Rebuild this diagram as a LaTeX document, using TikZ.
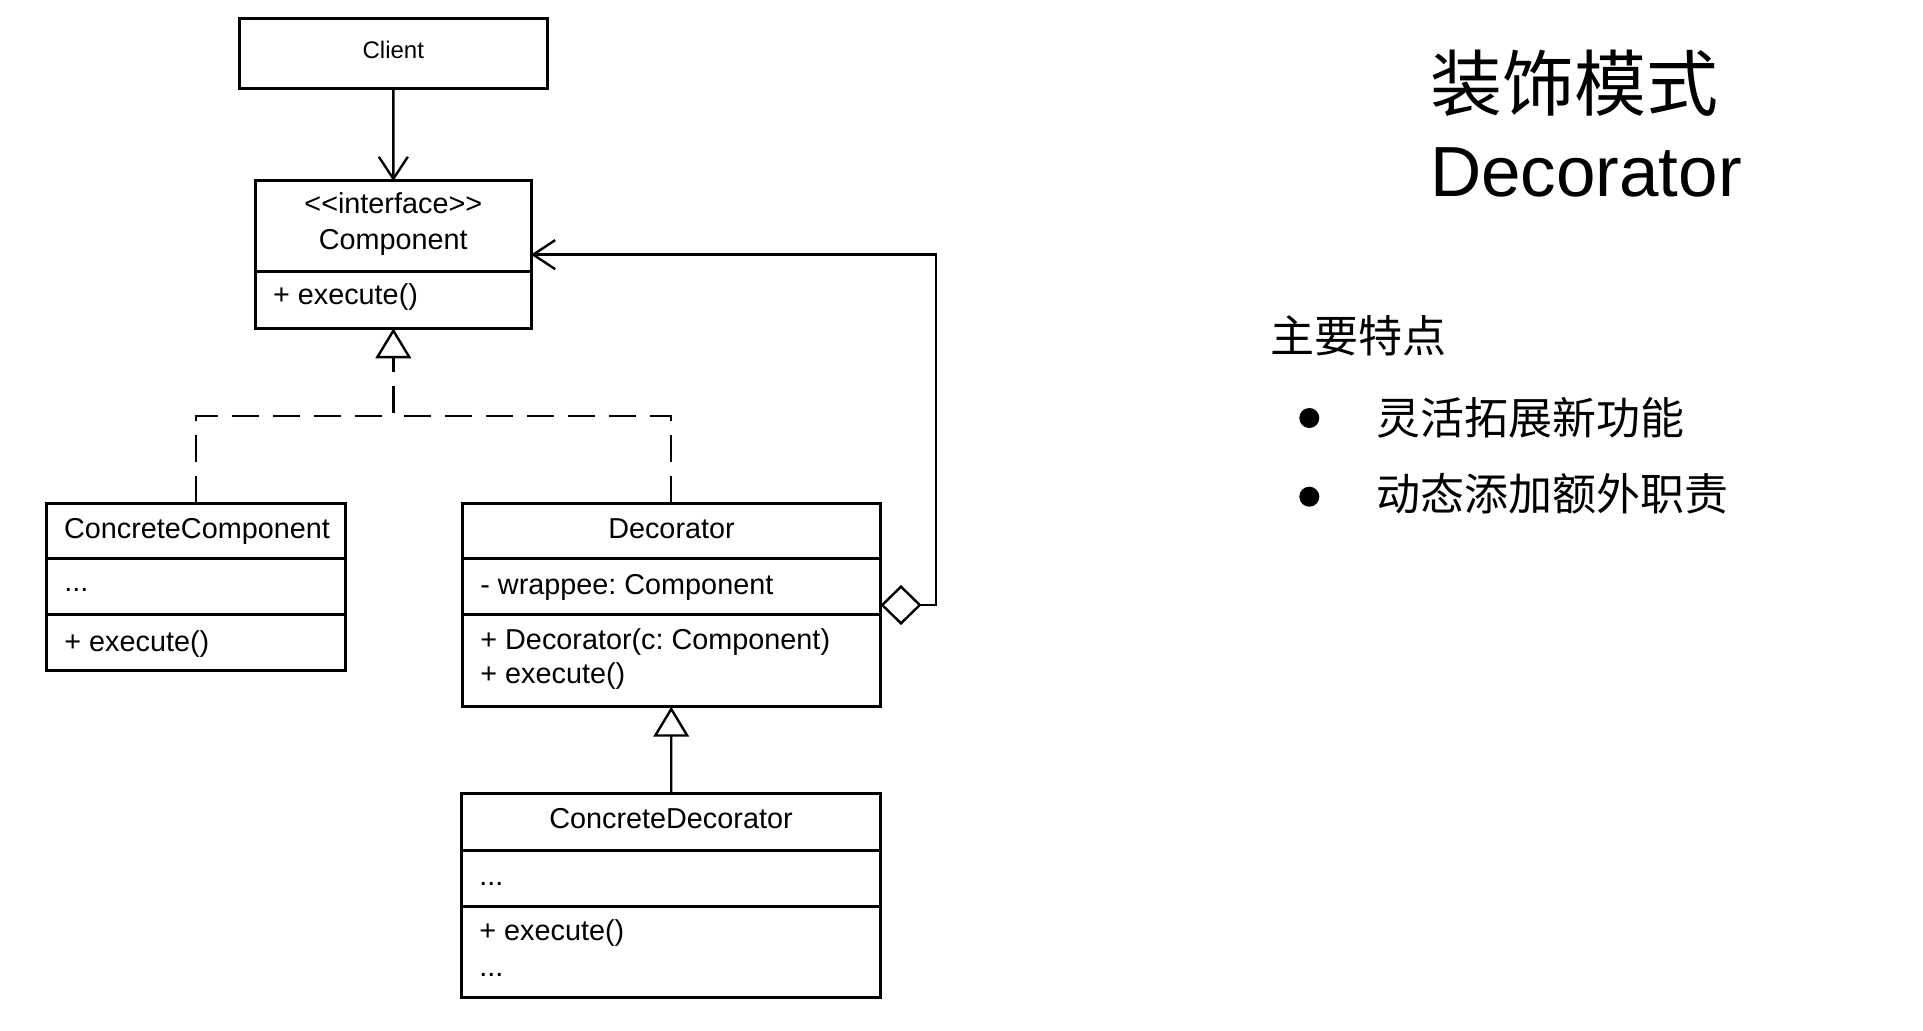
\documentclass[tikz,border=0pt]{standalone}
\usepackage{fontspec}
\setmainfont{Liberation Sans}
\newfontfamily\cjk{Noto Sans CJK SC}
\usetikzlibrary{arrows.meta}
\frenchspacing
\begin{document}
\begin{tikzpicture}[x=0.5pt,y=-0.5pt,
  box/.style={draw, line width=1.5pt, inner sep=0pt, outer sep=0pt, rectangle},
  sepline/.style={line width=1.5pt},
  lbl/.style={inner sep=0pt, anchor=base, font=\fontsize{14.4}{17}\selectfont},
  lbll/.style={lbl, anchor=base west},
  conn/.style={line width=1.2pt},
  dashconn/.style={conn, dash pattern=on 13.5pt off 7pt},
  barb/.style={-{Straight Barb[length=11pt,width=14.5pt]}},
  realtip/.style={-{Triangle[open,length=15pt,width=17.8pt]}},
  bul/.style={circle, fill=black, inner sep=0pt, minimum size=10pt},
  cjkline/.style={inner sep=0pt, anchor=base west, font=\cjk\fontsize{22}{26}\selectfont}
]
\useasboundingbox (0,0) rectangle (1923,1031);

% boxes
\node[box, minimum width=154pt, minimum height=35pt] (Client) at (393.3,53.3) {};
\node[box, minimum width=137.65pt, minimum height=73.65pt] (Component) at (393.35,254.65) {};
\node[box, minimum width=149.5pt, minimum height=83.7pt] (CC) at (196.2,587) {};
\node[box, minimum width=209.25pt, minimum height=101.7pt] (Decorator) at (671.25,605) {};
\node[box, minimum width=209.5pt, minimum height=102.1pt] (CD) at (671.2,895.4) {};

% separators
\draw[sepline] (Component.west |- 0,271.7) -- (Component.east |- 0,271.7);
\draw[sepline] (CC.west |- 0,558.3) -- (CC.east |- 0,558.3);
\draw[sepline] (CC.west |- 0,615) -- (CC.east |- 0,615);
\draw[sepline] (Decorator.west |- 0,558.3) -- (Decorator.east |- 0,558.3);
\draw[sepline] (Decorator.west |- 0,615) -- (Decorator.east |- 0,615);
\draw[sepline] (CD.west |- 0,850) -- (CD.east |- 0,850);
\draw[sepline] (CD.west |- 0,906.5) -- (CD.east |- 0,906.5);

% texts
\node[lbl, font=\fontsize{12}{14}\selectfont] (tClient) at (393.3,58.3) {Client};
\node[lbl] (tIface) at (393.3,213.3) {<{}<interface>{}>};
\node[lbl] (tComp) at (393.3,249.3) {Component};
\node[lbll] (tCompM) at (272.7,305) {+ execute()};

\node[lbl] (tCC) at (197,538.3) {ConcreteComponent};
\node[lbll] (tCCa) at (64,592) {...};
\node[lbll] (tCCm) at (64,651.7) {+ execute()};

\node[lbl] (tDec) at (671.5,538.3) {Decorator};
\node[lbll] (tDeca) at (480,594.3) {- wrappee: Component};
\node[lbll] (tDecm1) at (480,650) {+ Decorator(c: Component)};
\node[lbll] (tDecm2) at (480,683.3) {+ execute()};

\node[lbl] (tCD) at (671,828.3) {ConcreteDecorator};
\node[lbll] (tCDa) at (479,885) {...};
\node[lbll] (tCDm) at (479,940) {+ execute()};
\node[lbll] (tCDb) at (479,976) {...};

% connectors
\draw[conn, barb] (Client.south) -- (Component.north);

\coordinate (jn) at (393.35,416);
\draw[dashconn, realtip] (CC.north) |- (jn) -- (Component.south);
\draw[dashconn] (Decorator.north) |- (jn);

\draw[conn, realtip] (CD.north) -- (Decorator.south);

\coordinate (aggR) at (935.7,604.7);
\draw[conn, {Diamond[open,length=20.5pt,width=20pt]}-{Straight Barb[length=11pt,width=14.5pt]}]
  (Decorator.east) -- (Decorator.east -| aggR) |- (Component.east);

% right side text
\node[inner sep=0pt, anchor=base, font=\cjk\fontsize{36}{42}\selectfont] (title) at (1574,111) {装饰模式};
\node[inner sep=0pt, anchor=base, font=\fontsize{35.5}{42}\selectfont] (titleEn) at (1586,196.7) {Decorator};
\node[cjkline] (feat) at (1270,353) {主要特点};
\node[bul] (b1) at (1309.3,418) {};
\node[bul] (b2) at (1309.3,496.7) {};
\node[cjkline] (f1) at (1376,435) {灵活拓展新功能};
\node[cjkline] (f2) at (1376,511) {动态添加额外职责};
\end{tikzpicture}
\end{document}
